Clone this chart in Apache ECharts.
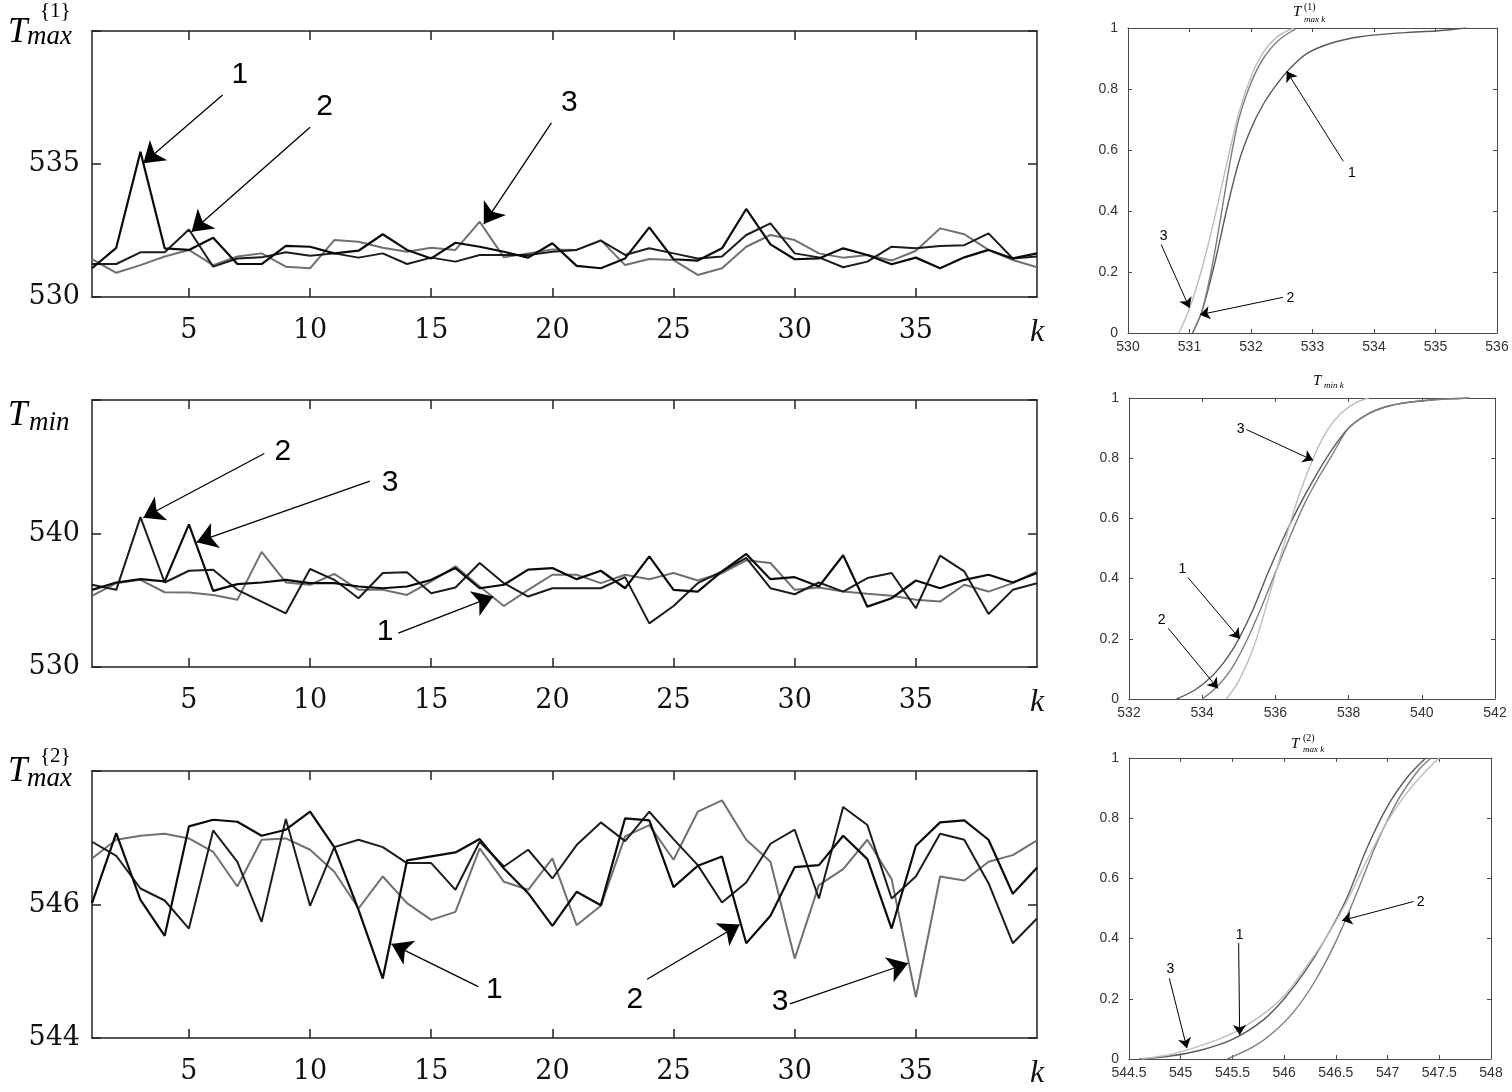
<!DOCTYPE html>
<html><head><meta charset="utf-8">
<script src="https://cdn.jsdelivr.net/npm/echarts@6/dist/echarts.min.js"></script>
<style>html,body{margin:0;padding:0;background:#fff}#c{width:1512px;height:1092px}</style>
</head><body><div id="c"></div>
<script>
// ---------- data ----------
const K = [1,2,3,4,5,6,7,8,9,10,11,12,13,14,15,16,17,18,19,20,21,22,23,24,25,26,27,28,29,30,31,32,33,34,35,36,37,38,39,40];

const tmax1_s1 = [531.08,531.85,535.46,531.83,531.77,532.23,531.24,531.24,531.92,531.89,531.64,531.74,532.36,531.77,531.45,532.04,531.89,531.70,531.48,532.02,531.17,531.08,531.45,532.62,531.42,531.37,531.83,533.31,531.98,531.42,531.45,531.83,531.58,531.23,531.48,531.08,531.49,531.77,531.45,531.64];
const tmax1_s2 = [531.24,531.24,531.68,531.68,532.54,531.14,531.45,531.49,531.68,531.55,531.64,531.48,531.64,531.24,531.48,531.33,531.58,531.58,531.58,531.70,531.77,532.12,531.58,531.83,531.64,531.45,531.52,532.33,532.77,531.64,531.49,531.12,531.33,531.89,531.83,531.92,531.95,532.39,531.45,531.52];
const tmax1_s3 = [531.42,530.91,531.20,531.52,531.77,531.20,531.52,531.64,531.14,531.08,532.14,532.08,531.85,531.70,531.85,531.77,532.83,531.49,531.64,531.79,531.77,532.14,531.20,531.43,531.39,530.83,531.08,531.89,532.33,532.14,531.64,531.48,531.58,531.37,531.74,532.58,532.36,531.77,531.39,531.12];

const tmin_s1 = [535.78,536.33,536.58,536.41,540.68,535.70,536.21,536.33,536.53,536.28,536.28,536.03,535.90,536.03,536.53,537.41,535.90,536.16,537.29,537.41,536.58,537.21,535.90,538.29,535.78,535.65,537.16,538.47,536.58,536.73,536.03,538.37,534.52,535.15,536.48,535.90,536.53,536.91,536.33,537.04];
const tmin_s2 = [536.16,535.78,541.23,536.33,537.21,537.29,535.78,534.90,534.02,537.34,536.53,535.15,537.04,537.09,535.53,535.95,537.79,536.28,535.28,535.90,535.90,535.90,536.73,533.27,534.57,536.28,537.16,538.17,535.90,535.45,536.33,535.65,536.66,537.04,534.40,538.34,537.16,533.97,535.78,536.28];
const tmin_s3 = [535.33,536.28,536.53,535.60,535.58,535.40,535.03,538.62,536.33,536.16,536.98,535.78,535.78,535.40,536.41,537.54,536.03,534.57,535.78,536.91,536.91,536.28,536.91,536.58,537.04,536.48,537.04,537.99,537.79,535.78,535.95,535.65,535.48,535.33,535.03,534.90,536.16,535.65,536.28,537.16];

const tmax2_s1 = [546.02,547.07,546.07,545.53,547.17,547.27,547.24,547.03,547.12,547.39,546.86,545.92,544.89,546.66,546.72,546.78,546.98,546.54,546.17,545.68,546.19,545.99,547.29,547.26,546.26,546.58,546.72,545.42,545.83,546.56,546.59,547.03,546.68,545.64,546.88,547.23,547.26,546.97,546.16,546.55];
const tmax2_s2 = [546.94,546.73,546.24,546.06,545.64,547.11,546.64,545.74,547.28,545.98,546.86,546.97,546.86,546.62,546.62,546.22,546.94,546.57,546.82,546.39,546.89,547.23,546.95,547.39,546.98,546.59,546.03,546.33,546.91,547.12,546.09,547.46,547.19,546.09,546.42,547.06,546.97,546.32,545.42,545.79];
const tmax2_s3 = [546.69,546.97,547.03,547.06,546.99,546.79,546.27,546.97,546.99,546.82,546.49,545.94,546.42,546.02,545.77,545.89,546.84,546.34,546.22,546.69,545.69,545.98,547.02,547.19,546.67,547.39,547.56,546.97,546.64,545.19,546.29,546.53,546.97,546.38,544.61,546.42,546.36,546.64,546.74,546.96];

// empirical distribution curves (x, F)
const cdfA_x1 = [531.05,531.2,531.4,531.6,531.8,532.0,532.2,532.4,532.6,532.9,533.3,533.8,534.5,535.0,535.5];
const cdfA_y1 = [0,0.07,0.22,0.40,0.56,0.67,0.75,0.81,0.86,0.915,0.95,0.972,0.985,0.99,1];
const cdfA_x2 = [531.05,531.2,531.35,531.5,531.65,531.8,532.0,532.2,532.45,532.75];
const cdfA_y2 = [0,0.07,0.2,0.37,0.55,0.7,0.82,0.9,0.96,1];
const cdfA_x3 = [530.83,531.0,531.2,531.4,531.6,531.8,532.0,532.2,532.45,532.7];
const cdfA_y3 = [0,0.08,0.21,0.37,0.55,0.72,0.84,0.92,0.975,1];

const cdfB_x1 = [533.3,533.8,534.3,534.7,535.0,535.4,535.8,536.2,536.6,537.0,537.5,538.0,538.5,539.0,539.6,540.4,541.3];
const cdfB_y1 = [0,0.03,0.08,0.14,0.2,0.3,0.42,0.53,0.63,0.72,0.82,0.9,0.945,0.97,0.985,0.995,1];
const cdfB_x2 = [534.0,534.4,534.8,535.2,535.6,536.0,536.4,536.8,537.2,537.5,538.0,538.5,539.0,539.6,540.4,541.3];
const cdfB_y2 = [0,0.04,0.1,0.19,0.3,0.42,0.54,0.65,0.74,0.8,0.9,0.945,0.97,0.985,0.995,1];
const cdfB_x3 = [534.66,535.0,535.4,535.8,536.2,536.6,537.0,537.4,537.8,538.2,538.55];
const cdfB_y3 = [0,0.06,0.17,0.33,0.5,0.66,0.79,0.89,0.95,0.985,1];

const cdfC_x1 = [544.6,544.9,545.2,545.5,545.8,546.0,546.2,546.4,546.6,546.8,547.0,547.2,547.37];
const cdfC_y1 = [0,0.01,0.03,0.065,0.13,0.2,0.29,0.4,0.53,0.7,0.84,0.94,1];
const cdfC_x2 = [545.45,545.7,545.9,546.1,546.3,546.5,546.7,546.9,547.1,547.3,547.42];
const cdfC_y2 = [0,0.04,0.09,0.16,0.26,0.39,0.55,0.72,0.86,0.96,1];
const cdfC_x3 = [544.62,544.9,545.2,545.5,545.8,546.0,546.2,546.4,546.6,546.8,547.0,547.2,547.38,547.5];
const cdfC_y3 = [0,0.015,0.045,0.085,0.15,0.21,0.3,0.4,0.52,0.66,0.79,0.89,0.96,1];

// tick values
const leftXTicks = [5,10,15,20,25,30,35];
const leftXLabels = [5,10,15,20,25,30,35,40];
const yTicks1 = [530,535,540], yLabels1 = [530,535];
const yTicks2 = [530,540,550], yLabels2 = [530,540];
const yTicks3 = [544,546,548], yLabels3 = [544,546];

// annotations (label, text position, arrow start, arrow tip) in data units
const ann1 = [
  {t:'1', p:[7.1,538.35], a:[6.39,537.59], b:[3.12,535.03]},
  {t:'2', p:[10.6,537.14], a:[10.0,536.38], b:[5.11,532.45]},
  {t:'3', p:[20.7,537.3], a:[19.96,536.55], b:[17.17,532.74]}
];
const ann2 = [
  {t:'2', p:[8.88,546.09], a:[8.11,545.99], b:[3.12,541.18]},
  {t:'3', p:[13.3,543.83], a:[12.47,543.93], b:[5.32,539.35]},
  {t:'1', p:[13.1,532.63], a:[13.64,532.53], b:[17.56,535.29]}
];
const ann3 = [
  {t:'1', p:[17.6,544.72], a:[16.94,544.77], b:[13.36,545.41]},
  {t:'2', p:[23.4,544.57], a:[23.91,544.88], b:[27.73,545.70]},
  {t:'3', p:[29.4,544.54], a:[29.8,544.51], b:[34.68,545.12]}
];
const annA = [
  {t:'1', p:[533.64,0.525], a:[533.5,0.563], b:[532.58,0.858]},
  {t:'2', p:[532.64,0.115], a:[532.52,0.117], b:[531.17,0.06]},
  {t:'3', p:[530.58,0.319], a:[530.54,0.29], b:[531.0,0.082]}
];
const annB = [
  {t:'3', p:[535.05,0.895], a:[535.21,0.895], b:[537.03,0.793]},
  {t:'1', p:[533.46,0.43], a:[533.61,0.404], b:[535.03,0.2]},
  {t:'2', p:[532.89,0.262], a:[533.07,0.235], b:[534.43,0.035]}
];
const annC = [
  {t:'2', p:[547.32,0.52], a:[547.25,0.523], b:[546.56,0.46]},
  {t:'1', p:[545.57,0.412], a:[545.56,0.385], b:[545.57,0.08]},
  {t:'3', p:[544.9,0.298], a:[544.89,0.268], b:[545.06,0.036]}
];

// ---------- build ----------
const SERIF = '"DejaVu Serif", "Liberation Serif", serif';
const MATH = '"Liberation Serif", "DejaVu Serif", serif';
const SANS = '"Liberation Sans", Arial, sans-serif';

const grids = [
  {left:92, top:31, width:945, height:266},
  {left:92, top:400, width:945, height:267},
  {left:92, top:771, width:945, height:267},
  {left:1128, top:28, width:369, height:305},
  {left:1129, top:398, width:366, height:301},
  {left:1129, top:758, width:362, height:301}
];
const xAxes = [], yAxes = [], series = [];

function leftPanel(gi, ymin, ymax, yt, yl, data, ann) {
  const ax = '#222';
  const base = {gridIndex:gi, type:'value', splitLine:{show:false}};
  xAxes.push(Object.assign({}, base, {min:1, max:40, position:'bottom',
    axisLine:{show:true, onZero:false, lineStyle:{color:ax, width:1.5}},
    axisTick:{show:true, inside:true, length:9, customValues:leftXTicks, lineStyle:{color:ax, width:1.5}},
    axisLabel:{show:true, customValues:leftXLabels, showMaxLabel:true, margin:20,
      fontFamily:SERIF, fontSize:27, color:'#111',
      formatter:v => v === 40 ? '{k|k}' : String(v),
      rich:{k:{fontFamily:MATH, fontStyle:'italic', fontSize:32, color:'#111'}}}}));
  xAxes.push(Object.assign({}, base, {min:1, max:40, position:'top',
    axisLine:{show:true, onZero:false, lineStyle:{color:ax, width:1.5}},
    axisTick:{show:true, inside:true, length:9, customValues:leftXTicks, lineStyle:{color:ax, width:1.5}},
    axisLabel:{show:false}}));
  yAxes.push(Object.assign({}, base, {min:ymin, max:ymax, position:'left',
    axisLine:{show:true, onZero:false, lineStyle:{color:ax, width:1.5}},
    axisTick:{show:true, inside:true, length:9, customValues:yt, lineStyle:{color:ax, width:1.5}},
    axisLabel:{show:true, customValues:yl, margin:12, fontFamily:SERIF, fontSize:27, color:'#111'}}));
  yAxes.push(Object.assign({}, base, {min:ymin, max:ymax, position:'right',
    axisLine:{show:true, onZero:false, lineStyle:{color:ax, width:1.5}},
    axisTick:{show:true, inside:true, length:9, customValues:yt, lineStyle:{color:ax, width:1.5}},
    axisLabel:{show:false}}));
  const xi = gi * 2, yi = gi * 2;
  const styles = [{c:'#0a0a0a', w:2.2}, {c:'#1c1c1c', w:2}, {c:'#707070', w:2}];
  data.forEach((arr, si) => {
    const s = {type:'line', xAxisIndex:xi, yAxisIndex:yi, showSymbol:false, silent:true,
      data:K.map((k, i) => [k, arr[i]]),
      lineStyle:{color:styles[si].c, width:styles[si].w}, z: 3 - si};
    if (si === 0) addAnn(s, ann, 20, 1.3, 30);
    series.push(s);
  });
}

function addAnn(s, ann, arrowSize, lw, fs) {
  s.markLine = {silent:true, animation:false, precision:4,
    label:{show:false}, lineStyle:{color:'#000', width:lw, type:'solid'},
    emphasis:{disabled:true},
    data: ann.map(a => [
      {coord:a.a, symbol:'none', symbolSize:0},
      {coord:a.b, symbol:'arrow', symbolSize:arrowSize, itemStyle:{color:'#000'}}
    ])};
  s.markPoint = {silent:true, animation:false, symbol:'circle', symbolSize:1,
    itemStyle:{color:'rgba(0,0,0,0)'},
    label:{show:true, position:'inside', formatter:'{b}', fontFamily:SANS, fontSize:fs, color:'#000'},
    data: ann.map(a => ({coord:a.p, name:a.t}))};
}

function rightPanel(gi, xmin, xmax, xint, curves, ann) {
  const ax = '#4a4a4a';
  const base = {gridIndex:gi, type:'value', splitLine:{show:false}};
  const lab = {fontFamily:SANS, fontSize:14, color:'#333'};
  xAxes.push(Object.assign({}, base, {min:xmin, max:xmax, interval:xint, position:'bottom',
    axisLine:{show:true, onZero:false, lineStyle:{color:ax, width:1}},
    axisTick:{show:true, inside:true, length:4, lineStyle:{color:ax}},
    axisLabel:Object.assign({show:true, margin:7, showMinLabel:true, showMaxLabel:true}, lab)}));
  xAxes.push(Object.assign({}, base, {min:xmin, max:xmax, interval:xint, position:'top',
    axisLine:{show:true, onZero:false, lineStyle:{color:ax, width:1}},
    axisTick:{show:true, inside:true, length:4, lineStyle:{color:ax}},
    axisLabel:{show:false}}));
  yAxes.push(Object.assign({}, base, {min:0, max:1, interval:0.2, position:'left',
    axisLine:{show:true, onZero:false, lineStyle:{color:ax, width:1}},
    axisTick:{show:true, inside:true, length:4, lineStyle:{color:ax}},
    axisLabel:Object.assign({show:true, margin:10}, lab)}));
  yAxes.push(Object.assign({}, base, {min:0, max:1, interval:0.2, position:'right',
    axisLine:{show:true, onZero:false, lineStyle:{color:ax, width:1}},
    axisTick:{show:true, inside:true, length:4, lineStyle:{color:ax}},
    axisLabel:{show:false}}));
  const cols = ['#5a5a5a', '#7d7d7d', '#bdbdbd'];
  curves.forEach((c, si) => {
    const s = {type:'line', xAxisIndex:gi*2, yAxisIndex:gi*2, showSymbol:false, silent:true,
      smooth:0.3,
      data:c[0].map((x, i) => [x, c[1][i]]),
      lineStyle:{color:cols[si], width:1.4}, z: 3};
    if (si === 0) addAnn(s, ann, 10, 1, 14);
    series.push(s);
  });
}

leftPanel(0, 530, 540, yTicks1, yLabels1, [tmax1_s1, tmax1_s2, tmax1_s3], ann1);
leftPanel(1, 530, 550, yTicks2, yLabels2, [tmin_s1, tmin_s2, tmin_s3], ann2);
leftPanel(2, 544, 548, yTicks3, yLabels3, [tmax2_s1, tmax2_s2, tmax2_s3], ann3);
rightPanel(3, 530, 536, 1, [[cdfA_x1, cdfA_y1], [cdfA_x2, cdfA_y2], [cdfA_x3, cdfA_y3]], annA);
rightPanel(4, 532, 542, 2, [[cdfB_x1, cdfB_y1], [cdfB_x2, cdfB_y2], [cdfB_x3, cdfB_y3]], annB);
rightPanel(5, 544.5, 548, 0.5, [[cdfC_x1, cdfC_y1], [cdfC_x2, cdfC_y2], [cdfC_x3, cdfC_y3]], annC);

// math-style axis names
function tx(left, top, text, font) {
  return {type:'text', left:left, top:top, silent:true,
    style:{text:text, font:font, fill:'#000'}};
}
const graphics = [
  tx(8, 15, 'T', 'italic 35px ' + MATH),
  tx(40, 1, '{1}', '21px ' + MATH),
  tx(27, 23, 'max', 'italic 27px ' + MATH),

  tx(8, 398, 'T', 'italic 35px ' + MATH),
  tx(29, 409, 'min', 'italic 27px ' + MATH),

  tx(8, 754, 'T', 'italic 35px ' + MATH),
  tx(40, 746, '{2}', '21px ' + MATH),
  tx(27, 765, 'max', 'italic 27px ' + MATH),

  tx(1293, 5, 'T', 'italic 15px ' + MATH),
  tx(1304, 2, '(1)', '10px ' + MATH),
  tx(1304, 15, 'max k', 'italic 9px ' + MATH),

  tx(1313, 374, 'T', 'italic 15px ' + MATH),
  tx(1324, 381, 'min k', 'italic 9px ' + MATH),

  tx(1291, 737, 'T', 'italic 15px ' + MATH),
  tx(1303, 733, '(2)', '10px ' + MATH),
  tx(1303, 745, 'max k', 'italic 9px ' + MATH)
];

const chart = echarts.init(document.getElementById('c'), null, {renderer:'canvas'});
chart.setOption({
  animation:false,
  backgroundColor:'#fff',
  grid:grids,
  xAxis:xAxes,
  yAxis:yAxes,
  series:series,
  graphic:graphics
});
</script></body></html>
